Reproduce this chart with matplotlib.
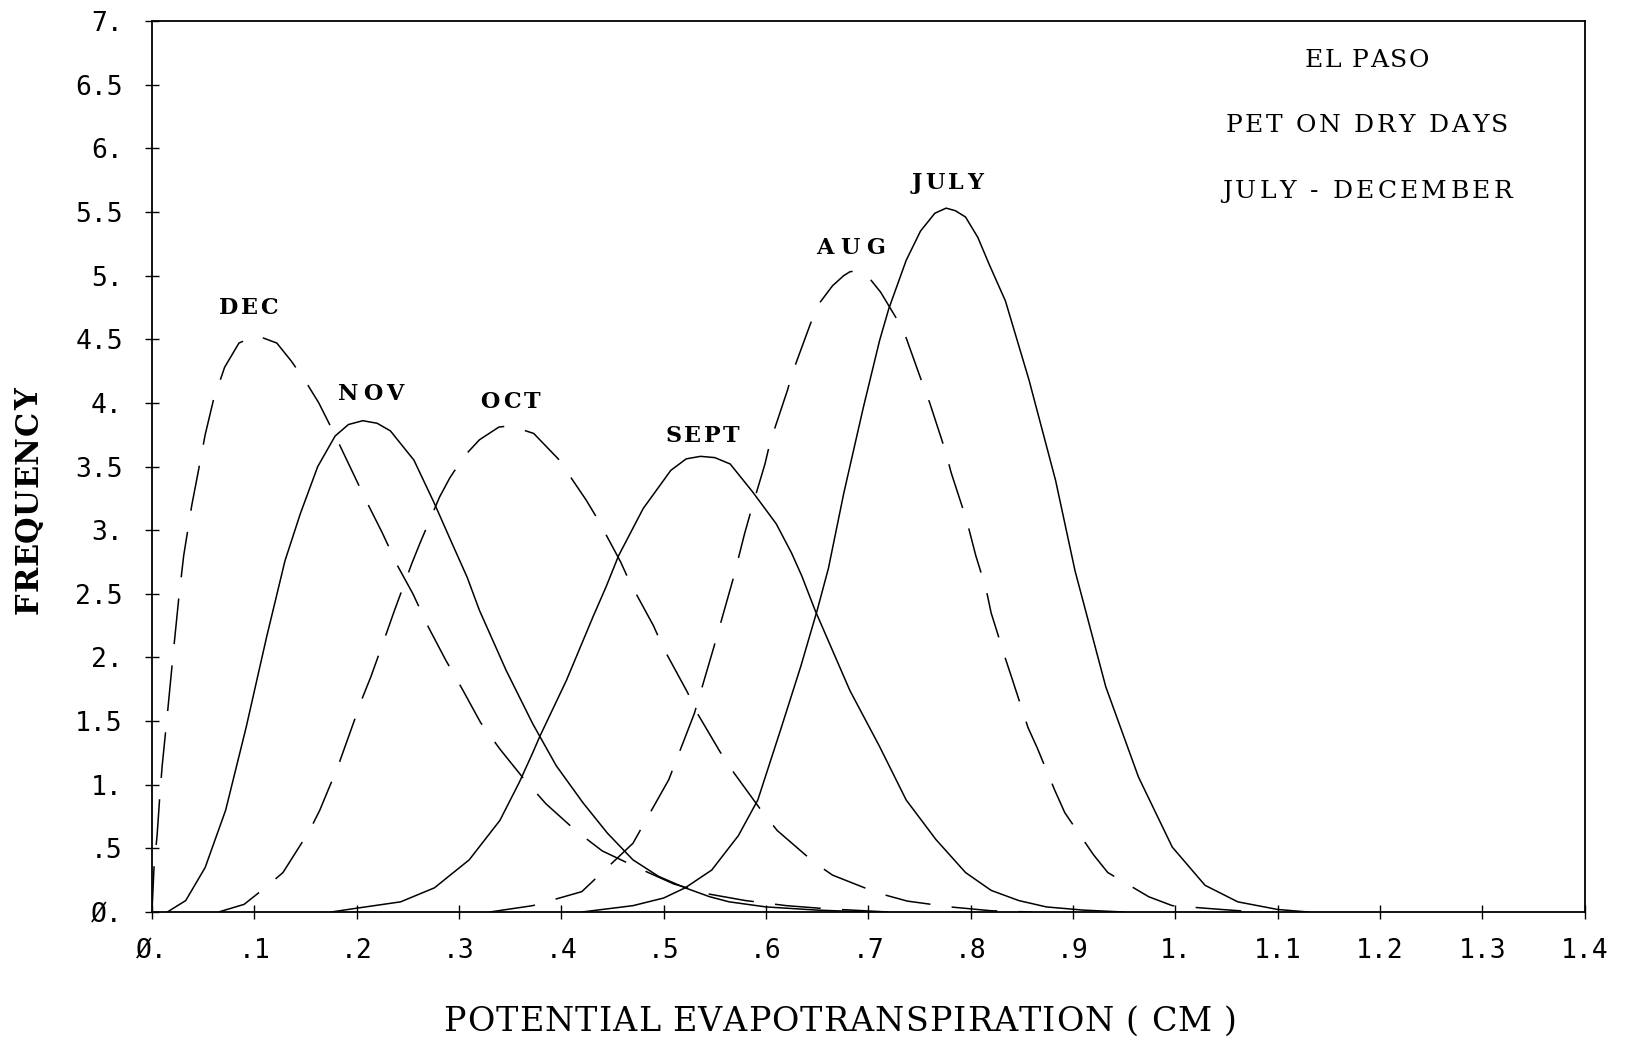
import matplotlib
matplotlib.use('Agg')
import matplotlib.pyplot as plt

# frequency curves of PET on dry days, El Paso
dec_x = [0.0, 0.002, 0.005, 0.008, 0.010, 0.015, 0.021, 0.026, 0.031, 0.039, 0.045, 0.052,
         0.060, 0.071, 0.085, 0.102, 0.122, 0.136, 0.150, 0.163, 0.178, 0.194, 0.210, 0.225,
         0.240, 0.255, 0.270, 0.287, 0.304, 0.321, 0.340, 0.363, 0.385, 0.414, 0.440, 0.474,
         0.510, 0.545, 0.580, 0.62, 0.66, 0.72]
dec_y = [0.0, 0.35, 0.6, 0.95, 1.15, 1.55, 2.05, 2.45, 2.8, 3.2, 3.45, 3.75,
         4.02, 4.28, 4.47, 4.53, 4.47, 4.33, 4.17, 4.0, 3.76, 3.49, 3.22, 2.98,
         2.72, 2.50, 2.24, 1.98, 1.74, 1.49, 1.28, 1.05, 0.85, 0.64, 0.48, 0.35,
         0.22, 0.14, 0.09, 0.05, 0.025, 0.0]

nov_x = [0.015, 0.033, 0.052, 0.072, 0.092, 0.112, 0.130, 0.145, 0.162, 0.179, 0.192, 0.206,
         0.220, 0.233, 0.256, 0.276, 0.293, 0.308, 0.320, 0.346, 0.372, 0.395, 0.421, 0.445,
         0.470, 0.495, 0.521, 0.545, 0.564, 0.60, 0.65, 0.70]
nov_y = [0.0, 0.09, 0.35, 0.80, 1.45, 2.16, 2.76, 3.13, 3.50, 3.74, 3.83, 3.86,
         3.84, 3.78, 3.55, 3.21, 2.90, 2.63, 2.37, 1.90, 1.48, 1.15, 0.86, 0.62,
         0.41, 0.28, 0.19, 0.12, 0.08, 0.04, 0.015, 0.0]

oct_x = [0.065, 0.090, 0.112, 0.128, 0.154, 0.164, 0.182, 0.190, 0.206, 0.214, 0.230, 0.237,
         0.254, 0.262, 0.281, 0.291, 0.305, 0.320, 0.339, 0.350, 0.373, 0.397, 0.424, 0.436,
         0.458, 0.467, 0.490, 0.500, 0.523, 0.533, 0.555, 0.569, 0.597, 0.611, 0.647, 0.665,
         0.709, 0.738, 0.780, 0.82, 0.86]
oct_y = [0.0, 0.06, 0.20, 0.31, 0.64, 0.80, 1.15, 1.33, 1.69, 1.85, 2.21, 2.37,
         2.74, 2.90, 3.26, 3.41, 3.58, 3.71, 3.81, 3.82, 3.76, 3.56, 3.24, 3.08,
         2.75, 2.59, 2.25, 2.07, 1.73, 1.56, 1.26, 1.09, 0.78, 0.64, 0.39, 0.29,
         0.15, 0.086, 0.04, 0.01, 0.0]

sept_x = [0.175, 0.200, 0.243, 0.276, 0.310, 0.340, 0.359, 0.372, 0.379, 0.405, 0.431, 0.444,
          0.456, 0.480, 0.507, 0.522, 0.536, 0.550, 0.565, 0.587, 0.610, 0.625, 0.635, 0.648,
          0.682, 0.711, 0.737, 0.766, 0.795, 0.820, 0.847, 0.874, 0.91, 0.95]
sept_y = [0.0, 0.03, 0.08, 0.19, 0.41, 0.72, 1.02, 1.25, 1.38, 1.82, 2.32, 2.56,
          2.80, 3.17, 3.47, 3.56, 3.58, 3.57, 3.52, 3.30, 3.05, 2.82, 2.64, 2.37,
          1.74, 1.30, 0.88, 0.57, 0.31, 0.17, 0.09, 0.04, 0.015, 0.0]

aug_x = [0.33, 0.372, 0.420, 0.470, 0.505, 0.530, 0.549, 0.568, 0.579, 0.586, 0.599, 0.604,
         0.621, 0.626, 0.642, 0.650, 0.665, 0.676, 0.682, 0.690, 0.700, 0.712, 0.727, 0.737,
         0.753, 0.760, 0.775, 0.781, 0.796, 0.805, 0.815, 0.820, 0.834, 0.841, 0.856, 0.865,
         0.882, 0.892, 0.920, 0.934, 0.974, 0.997, 1.045, 1.08]
aug_y = [0.0, 0.05, 0.16, 0.54, 1.04, 1.56, 2.08, 2.62, 2.97, 3.17, 3.52, 3.69,
         4.10, 4.24, 4.59, 4.76, 4.92, 5.00, 5.03, 5.04, 4.99, 4.87, 4.67, 4.51,
         4.15, 4.0, 3.63, 3.45, 3.08, 2.80, 2.54, 2.35, 1.99, 1.82, 1.45, 1.29,
         0.96, 0.78, 0.45, 0.31, 0.12, 0.05, 0.02, 0.0]

july_x = [0.42, 0.44, 0.47, 0.50, 0.521, 0.547, 0.573, 0.592, 0.615, 0.634, 0.650, 0.661,
          0.676, 0.695, 0.711, 0.720, 0.737, 0.751, 0.765, 0.776, 0.785, 0.795, 0.807, 0.818,
          0.834, 0.857, 0.883, 0.902, 0.932, 0.964, 0.997, 1.029, 1.061, 1.10, 1.13]
july_y = [0.0, 0.02, 0.05, 0.11, 0.19, 0.33, 0.60, 0.88, 1.45, 1.93, 2.37, 2.70,
          3.29, 3.96, 4.49, 4.74, 5.12, 5.35, 5.49, 5.53, 5.51, 5.46, 5.30, 5.09,
          4.80, 4.18, 3.39, 2.68, 1.77, 1.06, 0.51, 0.21, 0.08, 0.02, 0.0]

months = ['DEC', 'NOV', 'OCT', 'SEPT', 'AUG', 'JULY']
curves = [(dec_x, dec_y), (nov_x, nov_y), (oct_x, oct_y),
          (sept_x, sept_y), (aug_x, aug_y), (july_x, july_y)]
dashed = [True, False, True, False, True, False]
# label centre x and baseline y in data units, plus the spread width in px
label_pos = [(0.094, 4.70), (0.214, 4.02), (0.350, 3.96),
             (0.538, 3.69), (0.683, 5.17), (0.777, 5.68)]
label_w = [59, 66, 61, 74, 69, 71]

xticks = [i / 10 for i in range(15)]
xticklabels = ['Ø.', '.1', '.2', '.3', '.4', '.5', '.6', '.7', '.8', '.9',
               '1.', '1.1', '1.2', '1.3', '1.4']
yticks = [i / 2 for i in range(15)]
yticklabels = ['Ø.', '.5', '1.', '1.5', '2.', '2.5', '3.', '3.5',
               '4.', '4.5', '5.', '5.5', '6.', '6.5', '7.']

notes = ['EL PASO', 'PET ON DRY DAYS', 'JULY - DECEMBER']
notes_base = [67, 132, 198]   # px from the top
notes_w = [125, 283, 290]

W, H = 1627, 1041
fig = plt.figure(figsize=(W / 100, H / 100), dpi=100)
ax = fig.add_axes([0.0934, 0.1239, 0.8806, 0.8559])
renderer = fig.canvas.get_renderer()


def tracked(cx, cy, s, width, rotation=0, **kw):
    # draw s letter by letter, centred on (cx, cy) px with baseline at cy,
    # spreading the letters so the whole string is `width` px wide
    adv = []
    for ch in s:
        if ch == ' ':
            adv.append(kw['fontsize'] * 100 / 72 * 0.3)
            continue
        t = fig.text(0, 0, ch, **kw)
        adv.append(t.get_window_extent(renderer).width)
        t.remove()
    gap = (width - sum(adv)) / max(len(s) - 1, 1)
    pos = -width / 2
    for ch, a in zip(s, adv):
        c = pos + a / 2
        if ch != ' ':
            if rotation == 90:
                fig.text(cx / W, (cy + c) / H, ch, rotation=90, rotation_mode='anchor',
                         ha='center', va='baseline', **kw)
            else:
                fig.text((cx + c) / W, cy / H, ch, ha='center', va='baseline', **kw)
        pos += a + gap


ax.set_xlim(0, 1.4)
ax.set_ylim(0, 7)

for (xs, ys), d in zip(curves, dashed):
    line, = ax.plot(xs, ys, color='black', lw=1.1)
    if d:
        line.set_dashes((30, 14))

for m, (lx, ly), w in zip(months, label_pos, label_w):
    px, py = ax.transData.transform((lx, ly))
    tracked(px, py, m, w, fontsize=16, family='DejaVu Serif', fontweight='bold')

for t, b, w in zip(notes, notes_base, notes_w):
    tracked(1367, H - b, t, w, fontsize=18, family='DejaVu Serif')

ax.set_xticks(xticks)
ax.set_xticklabels(xticklabels, family='DejaVu Sans Mono', fontsize=19)
ax.set_yticks(yticks)
ax.set_yticklabels(yticklabels, family='DejaVu Sans Mono', fontsize=19)
ax.tick_params(axis='both', direction='inout', length=10, width=1.0)
ax.tick_params(axis='x', pad=14)
ax.tick_params(axis='y', pad=16)
for s in ax.spines.values():
    s.set_linewidth(1.3)

tracked(38, H - 501, 'FREQUENCY', 225, rotation=90,
        fontsize=22, family='DejaVu Serif', fontweight='bold')
tracked(840, H - 1031, 'POTENTIAL EVAPOTRANSPIRATION ( CM )', 793,
        fontsize=24, family='DejaVu Serif')

fig.savefig('out.png', dpi=100)
